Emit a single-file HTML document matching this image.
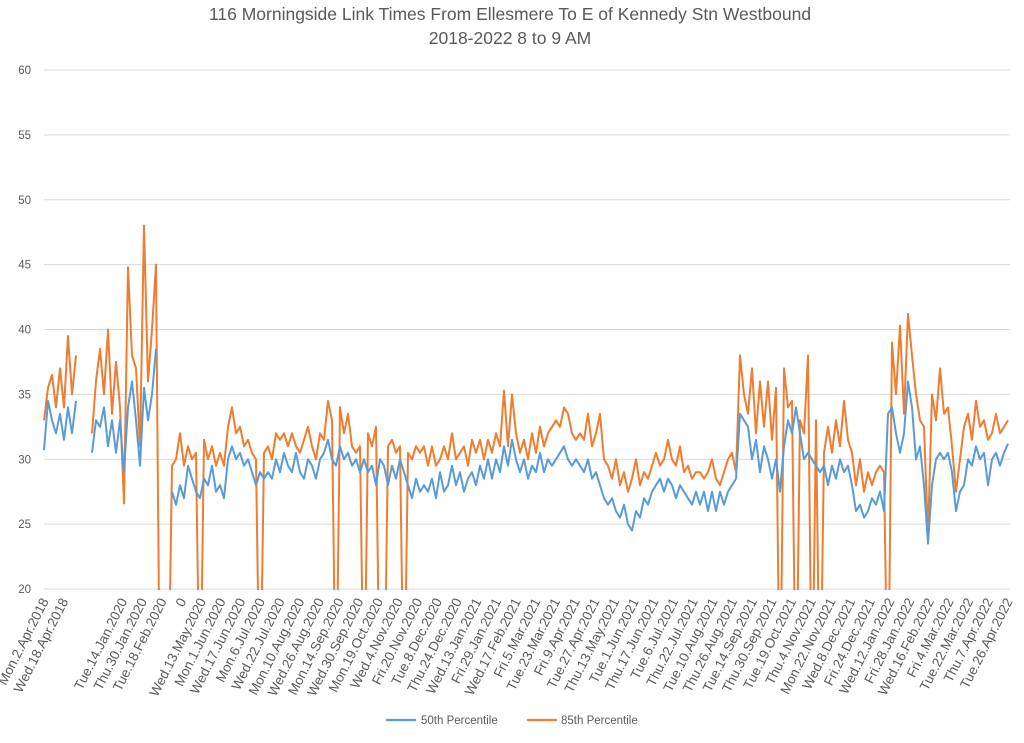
<!DOCTYPE html>
<html><head><meta charset="utf-8"><style>
html,body{margin:0;padding:0;background:#fff;overflow:hidden;}
svg{display:block;font-family:"Liberation Sans",sans-serif;}
</style></head><body>
<svg id="chart" width="1024" height="743" viewBox="0 0 1024 743" xmlns="http://www.w3.org/2000/svg">
<defs><clipPath id="pc"><rect x="40" y="68" width="975" height="522"/></clipPath></defs>
<text x="510" y="20" text-anchor="middle" font-size="17.5" fill="#595959">116 Morningside Link Times From Ellesmere To E of Kennedy Stn Westbound</text>
<text x="510" y="44" text-anchor="middle" font-size="17.5" fill="#595959">2018-2022 8 to 9 AM</text>
<g id="grid"></g>
<g id="yaxis"></g>
<g id="xaxis"></g>
<g id="series" clip-path="url(#pc)"></g>
<g>
<line x1="386" y1="720" x2="416" y2="720" stroke="#5b9bd5" stroke-width="2.2"/>
<text x="421" y="724" font-size="11.5" fill="#595959">50th Percentile</text>
<line x1="527" y1="720" x2="557" y2="720" stroke="#ed7d31" stroke-width="2.2"/>
<text x="561" y="724" font-size="11.5" fill="#595959">85th Percentile</text>
</g>
</svg>
<script>
const yTicks=[20,25,30,35,40,45,50,55,60];
const xLabels=["Mon.2.Apr.2018","Wed.18.Apr.2018","","Tue.14.Jan.2020","Thu.30.Jan.2020","Tue.18.Feb.2020","0","Wed.13.May.2020","Mon.1.Jun.2020","Wed.17.Jun.2020","Mon.6.Jul.2020","Wed.22.Jul.2020","Mon.10.Aug.2020","Wed.26.Aug.2020","Mon.14.Sep.2020","Wed.30.Sep.2020","Mon.19.Oct.2020","Wed.4.Nov.2020","Fri.20.Nov.2020","Tue.8.Dec.2020","Thu.24.Dec.2020","Wed.13.Jan.2021","Fri.29.Jan.2021","Wed.17.Feb.2021","Fri.5.Mar.2021","Tue.23.Mar.2021","Fri.9.Apr.2021","Tue.27.Apr.2021","Thu.13.May.2021","Tue.1.Jun.2021","Thu.17.Jun.2021","Tue.6.Jul.2021","Thu.22.Jul.2021","Tue.10.Aug.2021","Thu.26.Aug.2021","Tue.14.Sep.2021","Thu.30.Sep.2021","Tue.19.Oct.2021","Thu.4.Nov.2021","Mon.22.Nov.2021","Wed.8.Dec.2021","Fri.24.Dec.2021","Wed.12.Jan.2022","Fri.28.Jan.2022","Wed.16.Feb.2022","Fri.4.Mar.2022","Tue.22.Mar.2022","Thu.7.Apr.2022","Tue.26.Apr.2022"];
const p50=[30.7,34.5,33,32,33.5,31.5,34,32,34.5,null,null,null,30.5,33,32.5,34,31,33,30.5,33,29,34,36,33,29.5,35.5,33,35,38.5,null,null,null,
27.5,26.5,28,27,29.5,28.5,27.5,27,28.5,28,29.5,27.5,28,27,30,31,30,30.5,29.5,30,29,28,29,28.5,29,28.5,30,29,30.5,29.5,29,30.5,29,28.5,30,29.5,28.5,30,30.5,31.5,30,29.5,31,30,30.5,29.5,30,29,
30,29,29.5,28,30,29.5,28,29.5,28.5,30,29,28,27,28.5,27.5,28,27.5,28.5,27,29,27.5,28,29.5,28,29,27.5,28.5,29,28,29.5,28.5,30,28.5,30,29,31,29.5,31.5,30,29,30,28.5,29.5,29,30.5,29,30,29.5,30,30.5,31,30,29.5,30,29.5,29,30,28.5,29,28,
27,26.5,27,26,25.5,26.5,25,24.5,26,25.5,27,26.5,27.5,28,28.5,27.5,28.5,28,27,28,27.5,27,26.5,27.5,26.5,27.5,26,27.5,26,27.5,26.5,27.5,28,28.5,33.5,33,32.5,30,31.5,29,31,30,28.5,30,27.5,31,33,32,34,32,30,30.5,30,29.5,29,29.5,28,29.5,28.5,30,29,29.5,28,26,26.5,25.5,26,27,26.5,27.5,26,33.5,34,32,30.5,32,36,34,30,31,28,23.5,28,30,30.5,30,30.5,29,26,27.5,28,30,29.5,31,30,30.5,28,30,30.5,29.5,30.5,31.2];
const p85=[33,35.5,36.5,34,37,34,39.5,35,38,null,null,null,32,36,38.5,35,40,33.5,37.5,34,26.6,44.8,38,37,31,48,36,40,45,0,0,0,
29.5,30,32,29.5,31,30,30.5,0,31.5,30,31,29.5,30.5,29.5,32.5,34,32,32.5,31,31.5,30.5,30,0,30.5,31,30,32,31.5,32,31,32,31,30.5,31.5,32.5,31,30,32,31.5,34.5,33,0,34,32,33.5,31,30.5,31,
0,32,31,32.5,0,0,31,31.5,30.5,31,0,30.5,30,31,30.5,31,29.5,31,29.5,30,31,30,32,30,30.5,31,29.5,31.5,30.5,31.5,30,31.5,30.5,32,31,35.3,31,35,32,30.5,31.5,30,32,30.5,32.5,31,32,32.5,33,32.5,34,33.5,32,31.5,32,31.5,33.5,31,32,33.5,
30,29.5,28.5,30,28,29,27.5,28.5,30,28,29,28.5,29.5,30.5,29.5,30,31.5,30,29.5,31,29,29.5,28.5,29,29,28.5,29,30,28.5,28,29,30,30.5,29,38,35,33.5,37,32,36,32.5,36,31.5,35.5,0,37,34,34.5,0,33,32,38,0,33,0,30.5,32.5,30.5,33,31,34.5,31.5,30.5,28,30,27.5,29,28,29,29.5,29,0,39,35,40.3,33.5,41.2,38,35,33,32.5,24,35,33,37,33.5,34,31,27.5,30,32.5,33.5,31.5,34.5,32.5,33,31.5,32,33.5,32,32.5,33];
const NS="http://www.w3.org/2000/svg";
const X0=44,X1=1008,Y0=589,Y1=70,VMIN=20,VMAX=60;
const n=p50.length;
function xPt(i){return X0+i*(X1-X0)/(n-1);}
function yV(v){return Y0-(v-VMIN)/(VMAX-VMIN)*(Y0-Y1);}
function yPlot(v){return Math.min(Y0+140,yV(v));}
const grid=document.getElementById('grid'),ya=document.getElementById('yaxis'),xa=document.getElementById('xaxis'),ser=document.getElementById('series');
yTicks.forEach(t=>{
 const l=document.createElementNS(NS,'line');
 
 
 l.setAttribute('x1',X0);l.setAttribute('x2',1010);l.setAttribute('y1',yV(t));l.setAttribute('y2',yV(t));
 l.setAttribute('stroke','#d9d9d9');l.setAttribute('stroke-width','1');
 grid.appendChild(l);
 const tx=document.createElementNS(NS,'text');
 
 
 tx.setAttribute('x',31);tx.setAttribute('y',yV(t)+4);tx.setAttribute('text-anchor','end');
 tx.setAttribute('font-size','11.5');tx.setAttribute('fill','#595959');tx.textContent=t;
 ya.appendChild(tx);
});
xLabels.forEach((s,k)=>{
 if(!s)return;
 const kk=k>=2?k+1:k;
 const x=X0+kk*(X1-X0)/49;
 const tx=document.createElementNS(NS,'text');
 
 
 tx.setAttribute('transform','translate('+(x+5)+',601) rotate(-63)');
 tx.setAttribute('text-anchor','end');tx.setAttribute('font-size','13.5');tx.setAttribute('fill','#595959');
 tx.textContent=s;xa.appendChild(tx);
});
function draw(arr,color,name){
 let d='',pen=false;
 arr.forEach((v,i)=>{
  if(v===null){pen=false;return;}
  d+=(pen?'L':'M')+xPt(i).toFixed(1)+' '+yPlot(v).toFixed(1)+' ';pen=true;
 });
 const p=document.createElementNS(NS,'path');
 
 
 p.setAttribute('d',d);p.setAttribute('fill','none');p.setAttribute('stroke',color);
 p.setAttribute('stroke-width','2');p.setAttribute('stroke-linejoin','round');
 ser.appendChild(p);
}
draw(p85,'#ed7d31','series-85th-percentile');
draw(p50,'#5b9bd5','series-50th-percentile');
</script>
</body></html>
